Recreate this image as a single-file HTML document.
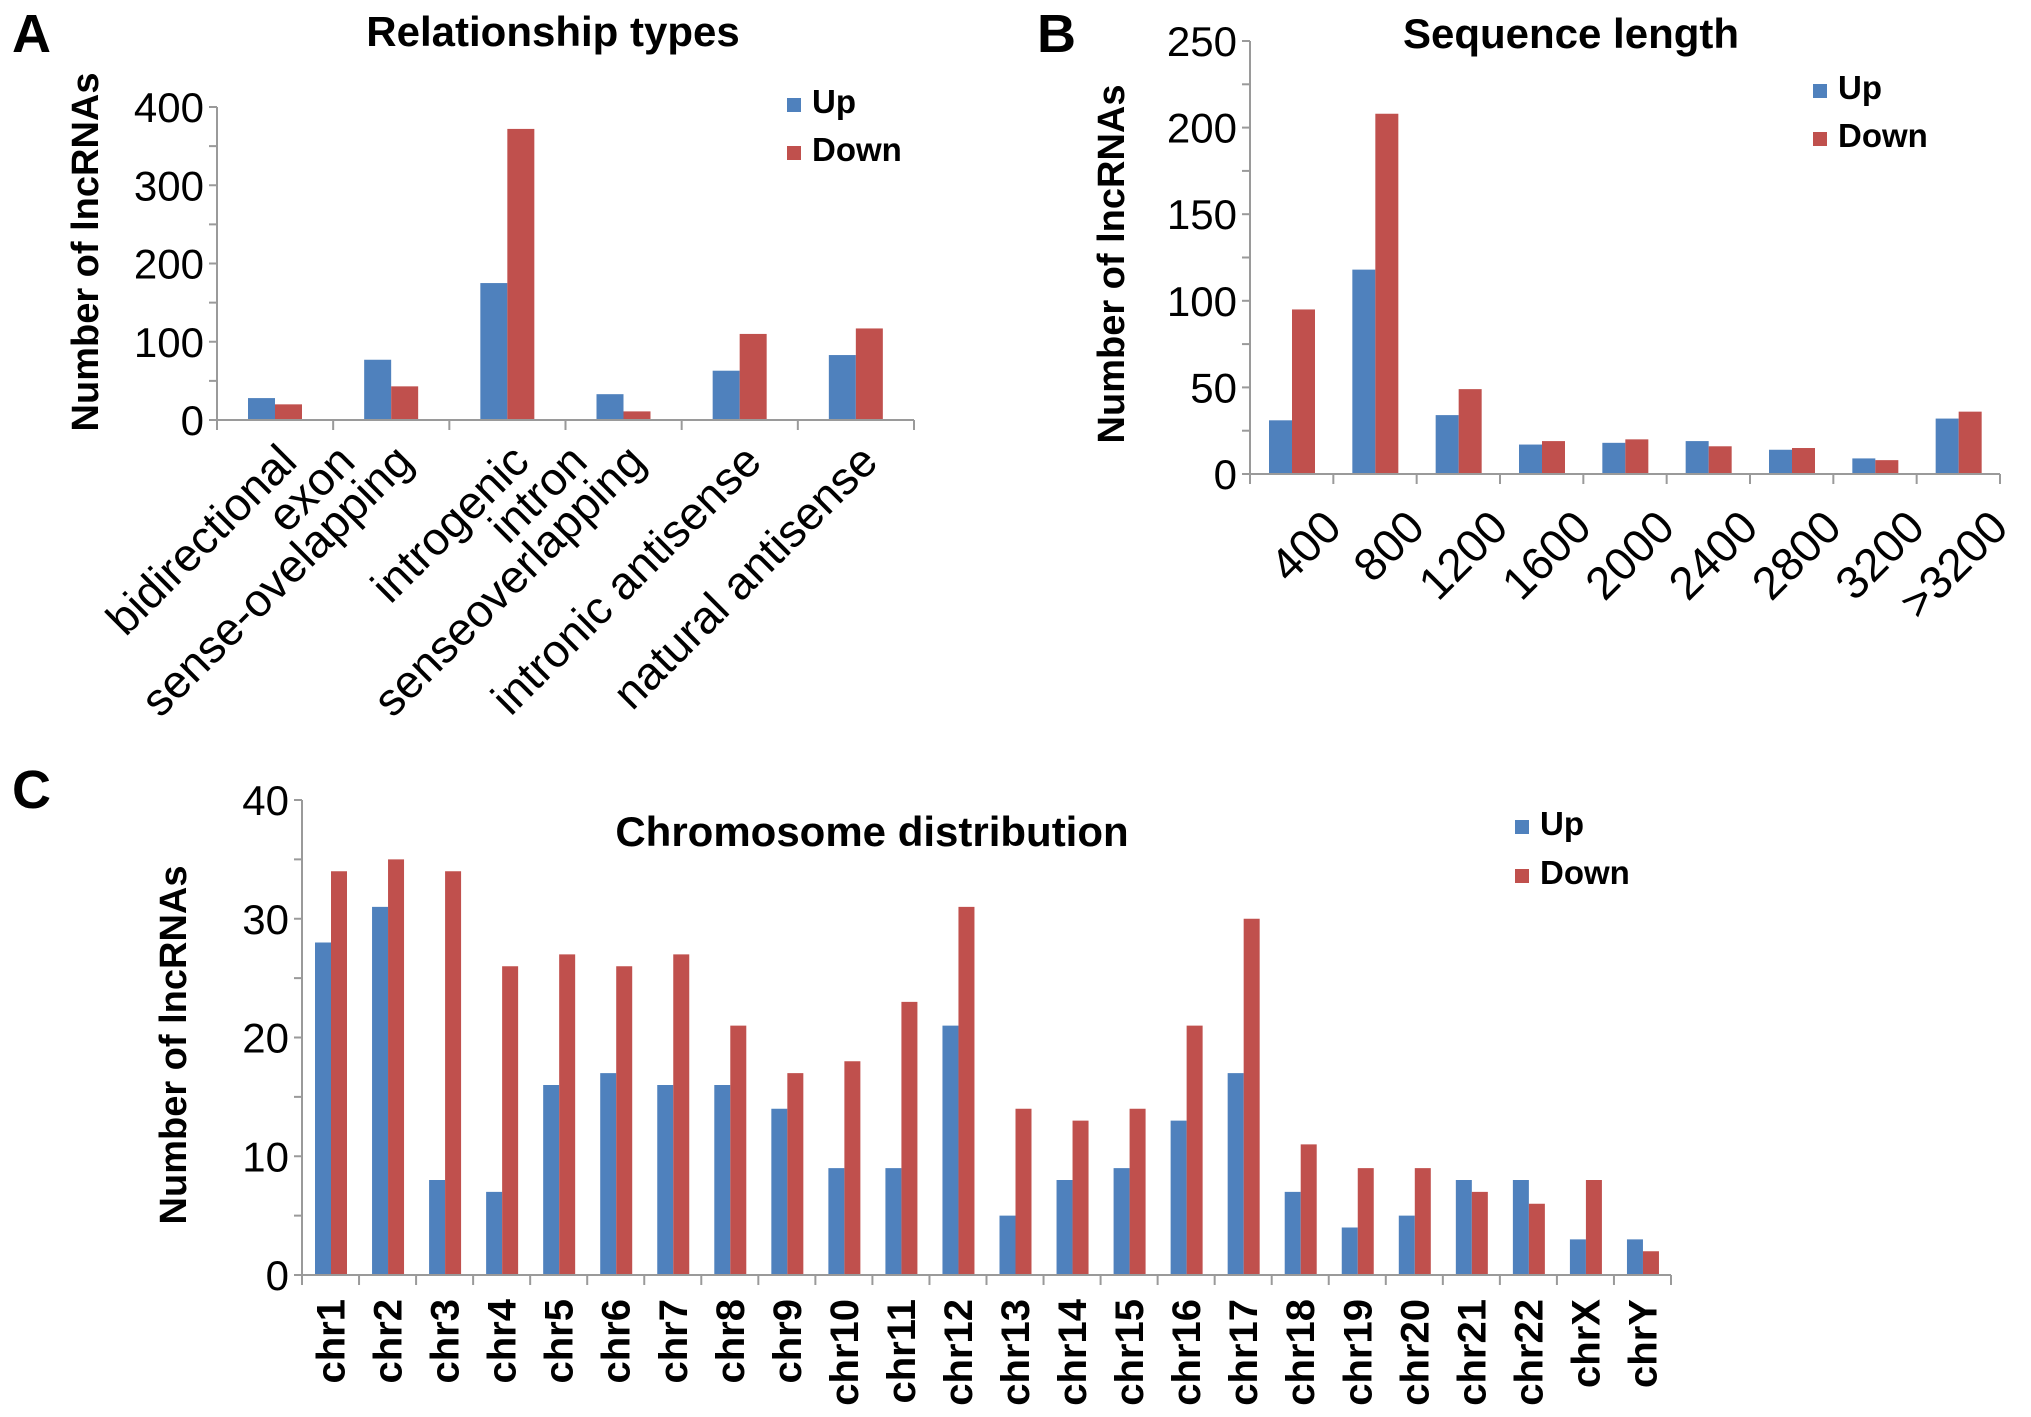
<!DOCTYPE html>
<html><head><meta charset="utf-8">
<style>
html,body{margin:0;padding:0;background:#fff;}
svg{display:block;font-family:"Liberation Sans",Arial,sans-serif;}
</style></head>
<body>
<svg id="fig" width="2031" height="1417" viewBox="0 0 2031 1417" xmlns="http://www.w3.org/2000/svg">
<text x="12" y="52" font-size="54" font-weight="bold">A</text>
<text x="1037" y="52" font-size="54" font-weight="bold">B</text>
<text x="12" y="808" font-size="54" font-weight="bold">C</text>
<text x="553" y="46" font-size="42" font-weight="bold" text-anchor="middle">Relationship types</text>
<text x="1571" y="48" font-size="42" font-weight="bold" text-anchor="middle">Sequence length</text>
<text x="872" y="846" font-size="42" font-weight="bold" text-anchor="middle">Chromosome distribution</text>
<text transform="translate(98,252) rotate(-90)" font-size="38" font-weight="bold" text-anchor="middle">Number of lncRNAs</text>
<text transform="translate(1124,264) rotate(-90)" font-size="38" font-weight="bold" text-anchor="middle">Number of lncRNAs</text>
<text transform="translate(186,1045) rotate(-90)" font-size="38" font-weight="bold" text-anchor="middle">Number of lncRNAs</text>
</svg>
<script>
// Panel A data
const aCategories = ["bidirectional","exon","sense-ovelapping","introgenic","intron","senseoverlapping","intronic antisense","natural antisense"];
const aSlots = [0.5,1,1.5,2.5,3,3.5,4.5,5.5];
const aUp = [28,0,77,175,0,33,63,83];
const aDown = [20,0,43,372,0,11,110,117];
const aTicks = [0,100,200,300,400];
// Panel B data
const bCategories = ["400","800","1200","1600","2000","2400","2800","3200",">3200"];
const bUp = [31,118,34,17,18,19,14,9,32];
const bDown = [95,208,49,19,20,16,15,8,36];
const bTicks = [0,50,100,150,200,250];
// Panel C data
const cCategories = ["chr1","chr2","chr3","chr4","chr5","chr6","chr7","chr8","chr9","chr10","chr11","chr12","chr13","chr14","chr15","chr16","chr17","chr18","chr19","chr20","chr21","chr22","chrX","chrY"];
const cUp = [28,31,8,7,16,17,16,16,14,9,9,21,5,8,9,13,17,7,4,5,8,8,3,3];
const cDown = [34,35,34,26,27,26,27,21,17,18,23,31,14,13,14,21,30,11,9,9,7,6,8,2];
const cTicks = [0,10,20,30,40];

const NS="http://www.w3.org/2000/svg";
const svg=document.getElementById('fig');
const BLUE="#4f81bd", RED="#c0504d", AX="#9a9a9a";
function mk(tag,attrs,parent){const e=document.createElementNS(NS,tag);for(const k in attrs)e.setAttribute(k,attrs[k]);(parent||svg).appendChild(e);return e;}

function panel(p){
  const g=mk('g',{});
  
  
  const y=v=>p.y0-(v/p.max)*(p.y0-p.yTop);
  const band=(p.x1-p.x0)/p.nBands;
  p.slots.forEach((s,i)=>{
    const bx=p.x0+Math.floor(s)*band+p.off;
    if(p.up[i]>0){
      const r=mk('rect',{x:bx,y:y(p.up[i]),width:p.bw,height:p.y0-y(p.up[i]),fill:BLUE},g);
      
      
    }
    if(p.down[i]>0){
      const r=mk('rect',{x:bx+p.bw,y:y(p.down[i]),width:p.bw,height:p.y0-y(p.down[i]),fill:RED},g);
      
      
    }
  });
  const ya=mk('line',{x1:p.x0,y1:p.yTop,x2:p.x0,y2:p.y0+10,stroke:AX,'stroke-width':2},g);
  
  
  const xa=mk('line',{x1:p.x0,y1:p.y0,x2:p.x1,y2:p.y0,stroke:AX,'stroke-width':2},g);
  
  
  for(let k=0;k<=p.nBands;k++){
    const xx=p.x0+k*band;
    mk('line',{x1:xx,y1:p.y0,x2:xx,y2:p.y0+10,stroke:AX,'stroke-width':2},g);
  }
  const step=p.ticks[1]-p.ticks[0];
  for(let v=0;v<=p.max;v+=step/2){
    mk('line',{x1:p.x0-8,y1:y(v),x2:p.x0,y2:y(v),stroke:AX,'stroke-width':2},g);
  }
  p.ticks.forEach(t=>{
    const tx=mk('text',{x:p.x0-13,y:y(t)+15,'font-size':42,'text-anchor':'end'},g);
    tx.textContent=t;
    
    
  });
  p.labels.forEach((l,i)=>{
    const cx=p.x0+p.labelSlots[i]*band;
    let t;
    if(p.vertical){
      t=mk('text',{transform:`translate(${cx+14},${p.y0+24}) rotate(-90)`,'font-size':40,'font-weight':'bold','text-anchor':'end'},g);
    } else {
      t=mk('text',{transform:`translate(${cx+p.lx},${p.y0+p.ly}) rotate(-45)`,'font-size':p.lfs,'text-anchor':'end'},g);
    }
    t.textContent=l;
    
    
  });
  [["Up",BLUE,p.legY],["Down",RED,p.legY+p.legGap]].forEach(([n,c,ly])=>{
    const s=mk('rect',{x:p.legX,y:ly-14,width:14,height:14,fill:c},g);
    
    
    const t=mk('text',{x:p.legX+25,y:ly+1,'font-size':33,'font-weight':'bold'},g);
    t.textContent=n;
    
    
  });
}

panel({id:'panel-a',x0:217,x1:914,y0:420,yTop:107,max:400,nBands:6,slots:aSlots,up:aUp,down:aDown,ticks:aTicks,off:31,bw:27,
  labels:aCategories,labelSlots:aSlots,lx:24,ly:44,lfs:46,legX:787,legY:112,legGap:48});
panel({id:'panel-b',x0:1250,x1:2000,y0:474,yTop:41,max:250,nBands:9,slots:bCategories.map((_,i)=>i+0.5),up:bUp,down:bDown,ticks:bTicks,off:19,bw:23,
  labels:bCategories,labelSlots:bCategories.map((_,i)=>i+0.5),lx:52,ly:56,lfs:46,legX:1813,legY:98,legGap:48});
panel({id:'panel-c',x0:302,x1:1671,y0:1275,yTop:800,max:40,nBands:24,slots:cCategories.map((_,i)=>i+0.5),up:cUp,down:cDown,ticks:cTicks,off:13,bw:16,
  labels:cCategories,labelSlots:cCategories.map((_,i)=>i+0.5),vertical:true,legX:1515,legY:834,legGap:49});
</script>
</body></html>
